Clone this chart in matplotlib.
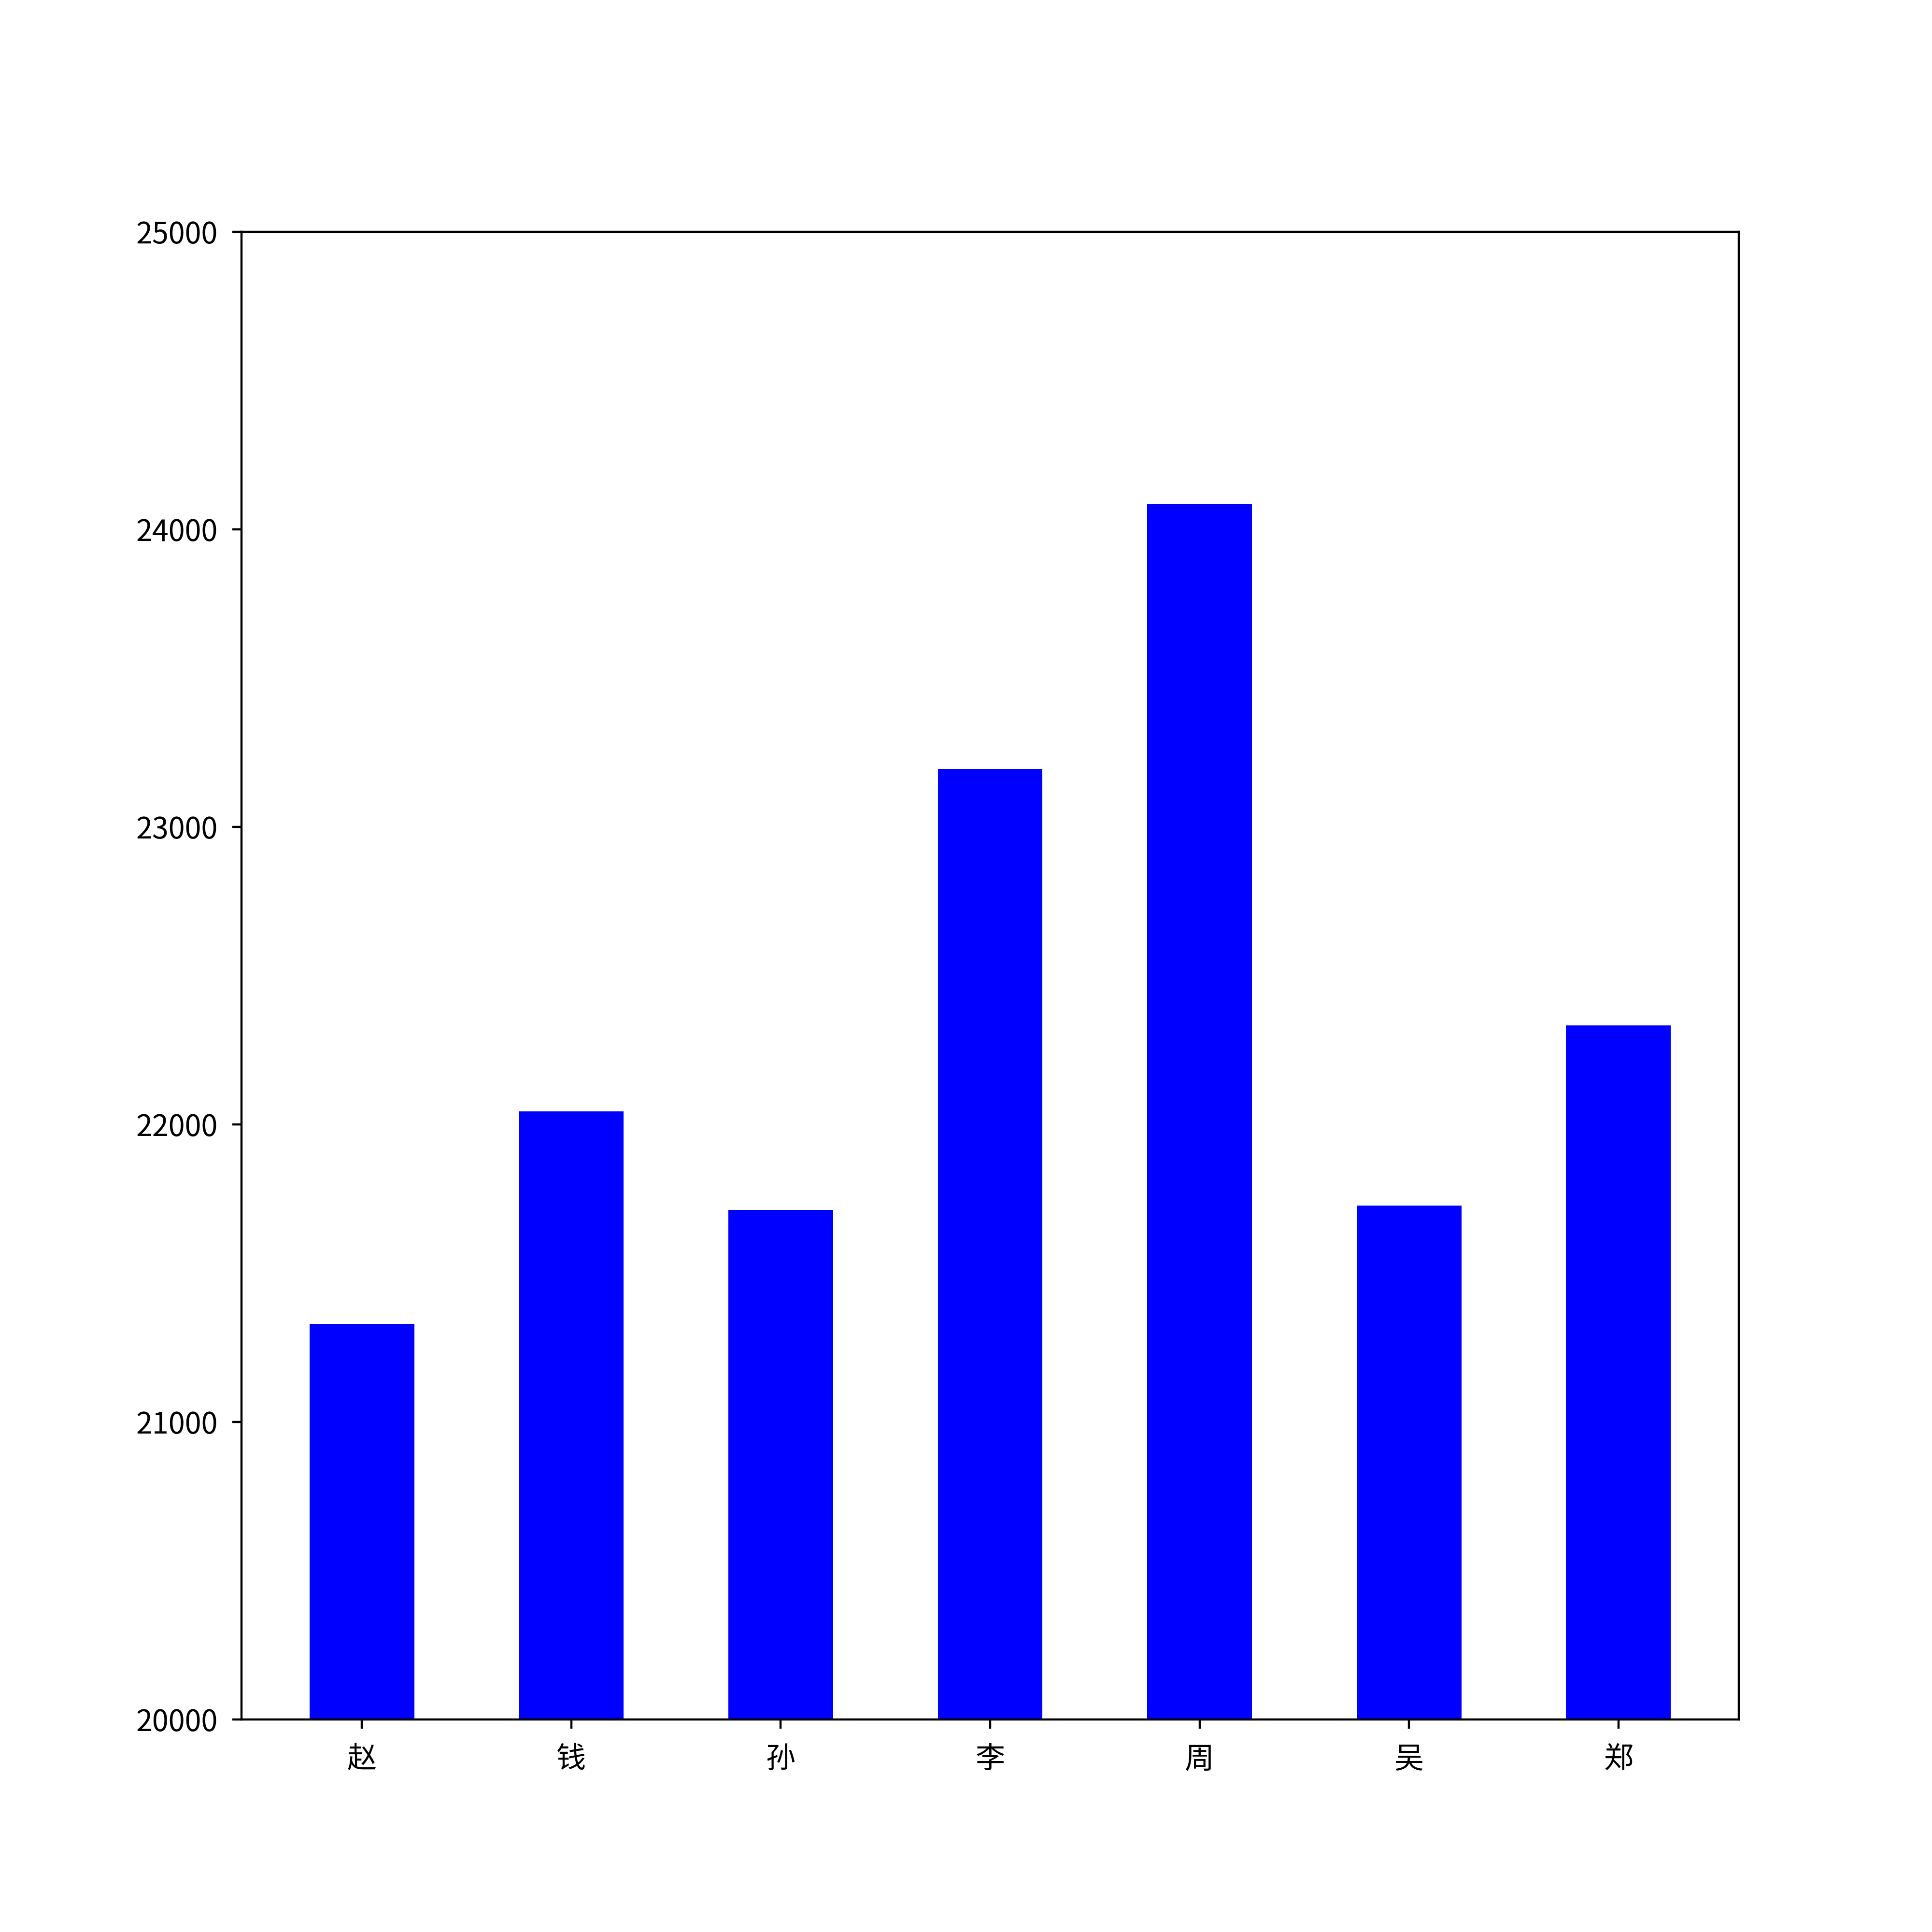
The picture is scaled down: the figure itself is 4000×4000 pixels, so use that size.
import matplotlib
matplotlib.use("Agg")
import matplotlib.pyplot as plt

plt.rcParams['font.family'] = ['Noto Sans CJK SC', 'DejaVu Sans']
plt.rcParams['axes.unicode_minus'] = False

names = ['赵', '钱', '孙', '李', '周', '吴', '郑']
values = [21330, 22044, 21713, 23195, 24086, 21727, 22333]

fig, ax = plt.subplots(figsize=(10, 10), dpi=400)
ax.bar(range(len(names)), values, width=0.5, color='blue')
ax.set_xticks(range(len(names)))
ax.set_xticklabels(names)
ax.set_ylim(20000, 25000)
ax.tick_params(axis='y', labelsize=11, pad=5.3)
ax.tick_params(axis='x', labelsize=11, pad=5.8)
fig.savefig('out.png', dpi=400)
